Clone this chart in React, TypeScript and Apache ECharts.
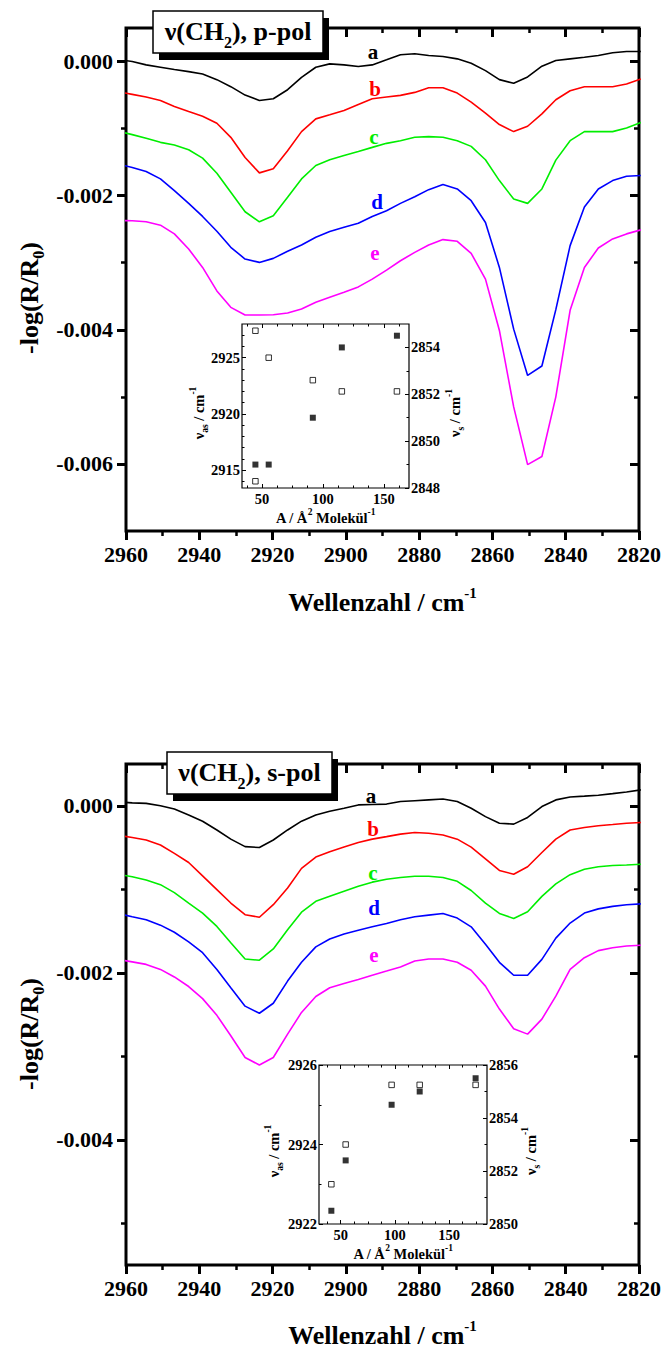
import React, { useEffect, useRef } from "react";
import * as echarts from "echarts";

// ---------- DATA ----------
// wavenumber of each sampled spectrum point (cm^-1)
const WAVENUMBER = [2962.2, 2958.3, 2954.5, 2950.6, 2946.8, 2942.9, 2939.1, 2935.2, 2931.4, 2927.5, 2923.6, 2919.8, 2915.9, 2912.1, 2908.2, 2904.4, 2900.5, 2896.6, 2892.8, 2888.9, 2885.1, 2881.2, 2877.4, 2873.5, 2869.6, 2865.8, 2861.9, 2858.1, 2854.2, 2850.4, 2846.5, 2842.7, 2838.8, 2834.9, 2831.1, 2827.2, 2823.4, 2819.5];

// p-pol spectra, -log(R/R0) in units of 10^-3
const P_A = [0.03, 0.0, -0.05, -0.085, -0.12, -0.15, -0.185, -0.27, -0.375, -0.5, -0.58, -0.555, -0.42, -0.235, -0.085, -0.035, -0.05, -0.075, -0.05, 0.025, 0.1, 0.115, 0.09, 0.075, 0.04, -0.025, -0.135, -0.27, -0.325, -0.23, -0.07, 0.015, 0.04, 0.065, 0.09, 0.13, 0.15, 0.15];
const P_B = [-0.45, -0.49, -0.53, -0.58, -0.67, -0.745, -0.815, -0.92, -1.13, -1.43, -1.66, -1.6, -1.33, -1.045, -0.855, -0.795, -0.73, -0.64, -0.555, -0.53, -0.505, -0.46, -0.39, -0.39, -0.47, -0.605, -0.77, -0.94, -1.045, -0.965, -0.78, -0.57, -0.435, -0.375, -0.375, -0.375, -0.335, -0.26];
const P_C = [-1.04, -1.09, -1.145, -1.205, -1.245, -1.315, -1.44, -1.665, -1.95, -2.24, -2.39, -2.3, -2.025, -1.75, -1.55, -1.465, -1.4, -1.34, -1.28, -1.22, -1.18, -1.13, -1.12, -1.13, -1.18, -1.265, -1.465, -1.775, -2.05, -2.115, -1.9, -1.47, -1.18, -1.045, -1.045, -1.045, -0.99, -0.91];
const P_D = [-1.53, -1.58, -1.64, -1.75, -1.925, -2.115, -2.31, -2.53, -2.77, -2.945, -2.995, -2.935, -2.83, -2.735, -2.62, -2.535, -2.47, -2.41, -2.31, -2.225, -2.115, -2.015, -1.91, -1.835, -1.9, -2.075, -2.4, -3.07, -3.99, -4.68, -4.54, -3.7, -2.745, -2.17, -1.9, -1.775, -1.71, -1.7];
const P_E = [-2.37, -2.375, -2.39, -2.44, -2.57, -2.795, -3.07, -3.42, -3.665, -3.78, -3.78, -3.775, -3.75, -3.69, -3.59, -3.515, -3.44, -3.36, -3.245, -3.11, -2.97, -2.845, -2.735, -2.655, -2.68, -2.86, -3.245, -4.01, -5.15, -6.01, -5.89, -5.0, -3.71, -3.07, -2.78, -2.645, -2.57, -2.51];

// s-pol spectra, -log(R/R0) in units of 10^-3
const S_A = [0.045, 0.035, 0.028, 0.0, -0.04, -0.11, -0.185, -0.29, -0.4, -0.49, -0.5, -0.41, -0.29, -0.185, -0.11, -0.065, -0.03, 0.01, 0.015, 0.02, 0.05, 0.06, 0.07, 0.08, 0.05, -0.03, -0.13, -0.21, -0.22, -0.14, -0.01, 0.07, 0.105, 0.115, 0.125, 0.145, 0.165, 0.19];
const S_B = [-0.355, -0.38, -0.41, -0.47, -0.57, -0.68, -0.84, -1.005, -1.165, -1.305, -1.335, -1.185, -0.985, -0.75, -0.615, -0.55, -0.495, -0.44, -0.4, -0.37, -0.34, -0.32, -0.33, -0.35, -0.4, -0.495, -0.635, -0.775, -0.82, -0.73, -0.56, -0.4, -0.29, -0.26, -0.24, -0.225, -0.21, -0.2];
const S_C = [-0.82, -0.85, -0.89, -0.945, -1.04, -1.165, -1.285, -1.445, -1.64, -1.835, -1.85, -1.715, -1.485, -1.275, -1.145, -1.085, -1.025, -0.965, -0.915, -0.88, -0.86, -0.845, -0.845, -0.86, -0.905, -1.015, -1.165, -1.29, -1.35, -1.27, -1.085, -0.935, -0.825, -0.76, -0.73, -0.715, -0.71, -0.7];
const S_D = [-1.29, -1.33, -1.365, -1.43, -1.515, -1.63, -1.76, -1.96, -2.18, -2.4, -2.485, -2.365, -2.1, -1.875, -1.69, -1.595, -1.535, -1.49, -1.45, -1.41, -1.365, -1.33, -1.31, -1.29, -1.345, -1.45, -1.66, -1.875, -2.03, -2.03, -1.84, -1.585, -1.405, -1.285, -1.235, -1.205, -1.185, -1.175];
const S_E = [-1.84, -1.87, -1.9, -1.96, -2.05, -2.165, -2.31, -2.51, -2.755, -3.015, -3.105, -3.015, -2.735, -2.475, -2.285, -2.18, -2.13, -2.08, -2.03, -1.98, -1.93, -1.86, -1.835, -1.835, -1.875, -1.97, -2.16, -2.435, -2.67, -2.735, -2.555, -2.28, -1.96, -1.82, -1.735, -1.7, -1.68, -1.67];

const SERIES_NAMES = ["a", "b", "c", "d", "e"];

// inset data (area per molecule vs band position)
const P_NU_AS_AREA = [44.6, 44.6, 55.5, 91.7, 115.5, 160.7];
const P_NU_AS = [2927.4, 2914.0, 2925.0, 2923.0, 2922.0, 2922.0];
const P_NU_S_AREA = [44.6, 55.5, 91.7, 115.5, 160.7];
const P_NU_S = [2849.0, 2849.0, 2851.0, 2854.0, 2854.5];
const S_NU_AS_AREA = [41.4, 54.6, 97.0, 122.9, 174.5];
const S_NU_AS = [2923.0, 2924.0, 2925.5, 2925.5, 2925.5];
const S_NU_S_AREA = [41.4, 54.6, 97.0, 122.9, 174.5];
const S_NU_S = [2850.5, 2852.4, 2854.5, 2855.0, 2855.5];

// tick labels / tick positions
const X_TICKS = [2820, 2840, 2860, 2880, 2900, 2920, 2940, 2960];
const X_MINOR = [2830, 2850, 2870, 2890, 2910, 2930, 2950];
const P_Y_TICKS = [0, -0.002, -0.004, -0.006];
const P_Y_MINOR = [-0.001, -0.003, -0.005];
const S_Y_TICKS = [0, -0.002, -0.004];
const S_Y_MINOR = [-0.001, -0.003, -0.005];
const INSET_X_TICKS = [50, 100, 150];
const P_INSET_X_MINOR = [37.5, 62.5, 75, 87.5, 112.5, 125, 137.5, 162.5];
const S_INSET_X_MINOR = [37.5, 62.5, 75, 87.5, 112.5, 125, 137.5, 162.5, 175];
const P_AS_TICKS = [2915, 2920, 2925];
const P_AS_MINOR = [2914, 2916, 2917, 2918, 2919, 2921, 2922, 2923, 2924, 2926, 2927];
const P_S_TICKS = [2848, 2850, 2852, 2854];
const P_S_MINOR = [2849, 2851, 2853];
const S_AS_TICKS = [2922, 2924, 2926];
const S_AS_MINOR = [2923, 2925];
const S_S_TICKS = [2850, 2852, 2854, 2856];
const S_S_MINOR = [2851, 2853, 2855];

// ---------- STYLE ----------
const FONT = "'Liberation Serif', 'Times New Roman', Times, serif";
const COLORS = ["#000000", "#ff0000", "#00ee00", "#0000ff", "#ff00ff"];

function tickAxis(o: any) {
  return {
    type: "value",
    gridIndex: o.grid,
    min: o.min,
    max: o.max,
    position: o.pos,
    inverse: !!o.inverse,
    axisLine: { show: false, onZero: false },
    axisTick: {
      show: true,
      inside: !!o.inside,
      length: o.len,
      customValues: o.ticks,
      lineStyle: { color: "#000", width: o.w },
    },
    axisLabel: o.labels
      ? {
          show: true,
          customValues: o.labels,
          formatter: o.fmt,
          margin: o.margin,
          fontSize: o.fs,
          fontFamily: FONT,
          fontWeight: "bold",
          color: "#000",
          hideOverlap: false,
        }
      : { show: false },
    splitLine: { show: false },
    minorTick: { show: false },
    name: o.name,
    nameLocation: "middle",
    nameGap: o.nameGap,
    nameTextStyle: {
      fontFamily: FONT,
      fontWeight: "bold",
      color: "#000",
      fontSize: o.nameFs,
      rich: o.nameRich,
    },
    silent: true,
  };
}

function richSet(main: number, small: number, lh: number, color: string) {
  const base = { fontFamily: FONT, fontWeight: "bold" };
  return {
    a: { ...base, fontSize: main, verticalAlign: "middle", color, fill: color },
    s: { ...base, fontSize: small, verticalAlign: "bottom", lineHeight: lh, color, fill: color },
    p: { ...base, fontSize: small, verticalAlign: "top", lineHeight: lh, color, fill: color },
  };
}

function gText(x: number, y: number, text: string, fs: number, opts: any = {}) {
  const fill = opts.fill || "#000";
  return {
    type: "text",
    x,
    y,
    rotation: opts.rot || 0,
    z: 100,
    silent: true,
    style: {
      text,
      rich: opts.rich,
      align: "center",
      verticalAlign: "middle",
      fontFamily: FONT,
      fontWeight: "bold",
      fontSize: fs,
      fill,
    },
  };
}

function buildOption() {
  const xAxis: any[] = [];
  const yAxis: any[] = [];
  const series: any[] = [];

  const grid = [
    { left: 126, top: 28, width: 514, height: 503, borderWidth: 3 },
    { left: 242, top: 324, width: 167, height: 164, borderWidth: 1.2 },
    { left: 126, top: 764, width: 514, height: 503, borderWidth: 3 },
    { left: 319, top: 1065, width: 168, height: 159, borderWidth: 1.2 },
  ].map((g) => ({ ...g, show: true, borderColor: "#000", backgroundColor: "transparent" }));

  const wnRich = richSet(26, 15, 34, "#000");

  function mainPanel(gi: number, yMin: number, yMax: number, yTicks: number[], yMinor: number[], curves: number[][], nameGap: number) {
    const xi = xAxis.length;
    const xb = { grid: gi, min: 2820, max: 2960, inverse: true };
    xAxis.push(
      tickAxis({
        ...xb, pos: "bottom", ticks: X_TICKS, len: 9, w: 3, labels: X_TICKS, fs: 22, margin: 12,
        fmt: (v: number) => String(Math.round(v)),
        name: "{a|Wellenzahl / cm}{p|-1}", nameGap, nameFs: 26, nameRich: wnRich,
      })
    );
    xAxis.push(tickAxis({ ...xb, pos: "bottom", ticks: X_MINOR, len: 5, w: 2.5 }));
    xAxis.push(tickAxis({ ...xb, pos: "top", ticks: X_TICKS, len: 9, w: 3, inside: true }));
    xAxis.push(tickAxis({ ...xb, pos: "top", ticks: X_MINOR, len: 5, w: 2.5, inside: true }));
    const yi = yAxis.length;
    const yb = { grid: gi, min: yMin, max: yMax };
    yAxis.push(
      tickAxis({ ...yb, pos: "left", ticks: yTicks, len: 9, w: 3, labels: yTicks, fs: 22, margin: 13, fmt: (v: number) => (Math.abs(v) < 1e-9 ? "0.000" : v.toFixed(3)) })
    );
    yAxis.push(tickAxis({ ...yb, pos: "left", ticks: yMinor, len: 5, w: 2.5 }));
    yAxis.push(tickAxis({ ...yb, pos: "right", ticks: yTicks, len: 9, w: 3, inside: true }));
    yAxis.push(tickAxis({ ...yb, pos: "right", ticks: yMinor, len: 5, w: 2.5, inside: true }));
    curves.forEach((vals, k) => {
      series.push({
        type: "line",
        name: SERIES_NAMES[k],
        xAxisIndex: xi,
        yAxisIndex: yi,
        data: WAVENUMBER.map((w, i) => [w, vals[i] * 1e-3]),
        symbol: "none",
        showSymbol: false,
        clip: true,
        z: 3,
        lineStyle: { color: COLORS[k], width: 1.6 },
        silent: true,
      });
    });
  }

  const insetRich = richSet(14.5, 9.5, 22, "#000");

  function insetPanel(gi: number, o: any) {
    const xi = xAxis.length;
    const xb = { grid: gi, min: o.xMin, max: o.xMax };
    xAxis.push(
      tickAxis({
        ...xb, pos: "bottom", ticks: INSET_X_TICKS, len: 4, w: 1, inside: true, labels: INSET_X_TICKS, fs: 14.5, margin: 3,
        fmt: (v: number) => String(v),
        name: "{a|A / Å}{p|2}{a| Molekül}{p|-1}", nameGap: o.nameGap, nameFs: 14.5, nameRich: insetRich,
      })
    );
    xAxis.push(tickAxis({ ...xb, pos: "bottom", ticks: o.xMinor, len: 2.5, w: 1, inside: true }));
    xAxis.push(tickAxis({ ...xb, pos: "top", ticks: INSET_X_TICKS, len: 4, w: 1, inside: true }));
    xAxis.push(tickAxis({ ...xb, pos: "top", ticks: o.xMinor, len: 2.5, w: 1, inside: true }));
    const yl = yAxis.length;
    const lb = { grid: gi, min: o.asMin, max: o.asMax };
    yAxis.push(tickAxis({ ...lb, pos: "left", ticks: o.asTicks, len: 4, w: 1, inside: true, labels: o.asTicks, fs: 14.5, margin: 2, fmt: (v: number) => String(v) }));
    yAxis.push(tickAxis({ ...lb, pos: "left", ticks: o.asMinor, len: 2.5, w: 1, inside: true }));
    const yr = yAxis.length;
    const rb = { grid: gi, min: o.sMin, max: o.sMax };
    yAxis.push(tickAxis({ ...rb, pos: "right", ticks: o.sTicks, len: 4, w: 1, inside: true, labels: o.sTicks, fs: 14.5, margin: 2, fmt: (v: number) => String(v) }));
    yAxis.push(tickAxis({ ...rb, pos: "right", ticks: o.sMinor, len: 2.5, w: 1, inside: true }));
    series.push({
      type: "scatter",
      name: "nu_as",
      xAxisIndex: xi,
      yAxisIndex: yl,
      data: o.asArea.map((a: number, i: number) => [a, o.asVals[i]]),
      symbol: "rect",
      symbolSize: 5.5,
      itemStyle: { color: "#fff", borderColor: "#000", borderWidth: 1 },
      z: 4,
      silent: true,
    });
    series.push({
      type: "scatter",
      name: "nu_s",
      xAxisIndex: xi,
      yAxisIndex: yr,
      data: o.sArea.map((a: number, i: number) => [a, o.sVals[i]]),
      symbol: "rect",
      symbolSize: 6,
      itemStyle: { color: "#000" },
      z: 4,
      silent: true,
    });
  }

  mainPanel(0, -0.007, 0.0005, P_Y_TICKS, P_Y_MINOR, [P_A, P_B, P_C, P_D, P_E], 54);
  insetPanel(1, {
    xMin: 33.6, xMax: 170.6, xMinor: P_INSET_X_MINOR, nameGap: 18,
    asMin: 2913.4, asMax: 2928, asTicks: P_AS_TICKS, asMinor: P_AS_MINOR,
    sMin: 2848, sMax: 2855, sTicks: P_S_TICKS, sMinor: P_S_MINOR,
    asArea: P_NU_AS_AREA, asVals: P_NU_AS, sArea: P_NU_S_AREA, sVals: P_NU_S,
  });
  mainPanel(2, -0.0055, 0.0005, S_Y_TICKS, S_Y_MINOR, [S_A, S_B, S_C, S_D, S_E], 53);
  insetPanel(3, {
    xMin: 30, xMax: 185, xMinor: S_INSET_X_MINOR, nameGap: 16,
    asMin: 2922, asMax: 2926, asTicks: S_AS_TICKS, asMinor: S_AS_MINOR,
    sMin: 2850, sMax: 2856, sTicks: S_S_TICKS, sMinor: S_S_MINOR,
    asArea: S_NU_AS_AREA, asVals: S_NU_AS, sArea: S_NU_S_AREA, sVals: S_NU_S,
  });

  const yNameRich = richSet(26, 16, 35, "#000");
  const titleRich = richSet(26, 16, 38, "#000");
  const R90 = Math.PI / 2;

  const titleBox = (x: number, y: number, w: number, h: number, text: string) => [
    { type: "rect", z: 98, silent: true, shape: { x: x + 6, y: y + 7, width: w, height: h }, style: { fill: "#000" } },
    { type: "rect", z: 99, silent: true, shape: { x, y, width: w, height: h }, style: { fill: "#fff", stroke: "#000", lineWidth: 1.5 } },
    gText(x + w / 2, y + h / 2 - 1, text, 26, { rich: titleRich }),
  ];

  const labelPos = [
    [[373, 52], [375, 89], [374, 137], [377, 202], [375, 253]],
    [[371, 796], [373, 829], [373, 873], [374, 908], [374, 955]],
  ];
  const seriesLabels: any[] = [];
  labelPos.forEach((panel) =>
    panel.forEach((p, k) => seriesLabels.push(gText(p[0], p[1], SERIES_NAMES[k], 21, { fill: COLORS[k] })))
  );

  const graphic = [
    gText(29, 298, "{a|-log(R/R}{s|0}{a|)}", 26, { rot: R90, rich: yNameRich }),
    gText(29, 1034, "{a|-log(R/R}{s|0}{a|)}", 26, { rot: R90, rich: yNameRich }),
    gText(199, 413, "{a|ν}{s|as}{a| / cm}{p|-1}", 14.5, { rot: R90, rich: insetRich }),
    gText(455, 413, "{a|ν}{s|s}{a| / cm}{p|-1}", 14.5, { rot: R90, rich: insetRich }),
    gText(274, 1151, "{a|ν}{s|as}{a| / cm}{p|-1}", 14.5, { rot: R90, rich: insetRich }),
    gText(531, 1151, "{a|ν}{s|s}{a| / cm}{p|-1}", 14.5, { rot: R90, rich: insetRich }),
    ...titleBox(153, 11, 170, 42, "{a|ν(CH}{s|2}{a|), p-pol}"),
    ...titleBox(167, 752, 165, 42, "{a|ν(CH}{s|2}{a|), s-pol}"),
    ...seriesLabels,
  ];

  return {
    animation: false,
    backgroundColor: "#fff",
    grid,
    xAxis,
    yAxis,
    series,
    graphic: { elements: graphic },
  };
}

export default function App() {
  const ref = useRef<HTMLDivElement>(null);
  useEffect(() => {
    if (!ref.current) return;
    const chart = echarts.init(ref.current, null, { renderer: "svg" });
    chart.setOption(buildOption() as any);
    return () => chart.dispose();
  }, []);
  return (
    <div
      ref={ref}
      style={{ position: "absolute", left: 0, top: 0, width: 664, height: 1349, background: "#fff" }}
    />
  );
}
